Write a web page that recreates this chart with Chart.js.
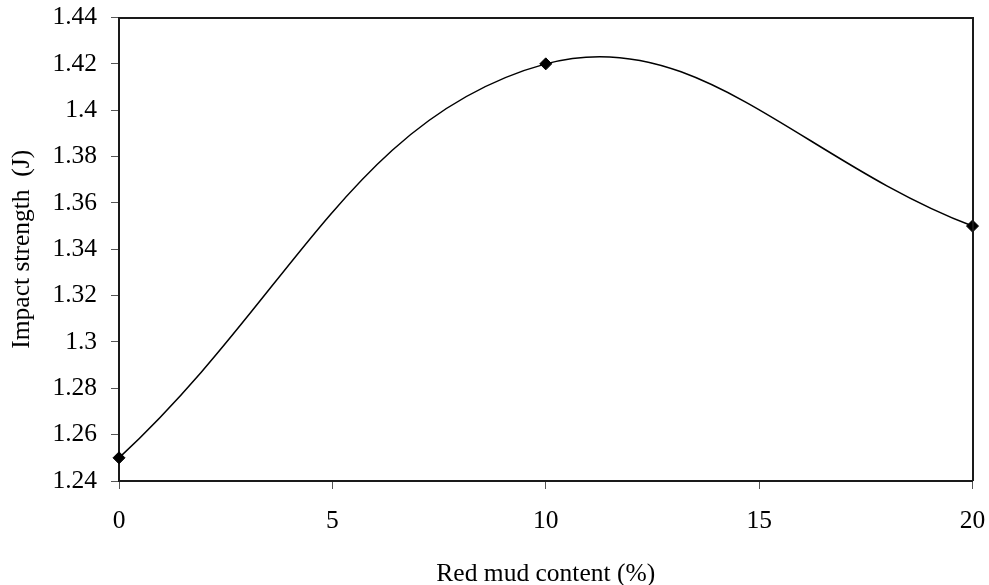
<!DOCTYPE html>
<html>
<head>
<meta charset="utf-8">
<script src="https://cdn.jsdelivr.net/npm/chart.js@4/dist/chart.umd.min.js"></script>
<style>
  html, body { margin: 0; padding: 0; background: #fff; }
  #wrap { width: 989px; height: 585px; }
</style>
</head>
<body>
<div id="wrap"><canvas id="c" width="989" height="585"></canvas></div>
<script>
// Data
const redMudContent = [0, 10, 20];           // %
const impactStrength = [1.25, 1.42, 1.35];   // J
const xTickValues = [0, 5, 10, 15, 20];
const yTickValues = [1.24, 1.26, 1.28, 1.3, 1.32, 1.34, 1.36, 1.38, 1.4, 1.42, 1.44];
const xTitle = 'Red mud content (%)';
const yTitle = 'Impact strength  (J)';

const points = redMudContent.map((x, i) => ({ x: x, y: impactStrength[i] }));
const FONT = 'Liberation Serif, Times New Roman, serif';

// top and right edges of the plot frame (left/bottom are the axis borders)
const framePlugin = {
  id: 'frame',
  afterDatasetsDraw(chart) {
    const { ctx, chartArea: a } = chart;
    const l = Math.round(a.left), r = Math.round(a.right), t = Math.round(a.top), b = Math.round(a.bottom);
    ctx.save();
    ctx.strokeStyle = '#1a1a1a';
    ctx.lineWidth = 2;
    ctx.beginPath();
    ctx.moveTo(l, t);
    ctx.lineTo(r, t);
    ctx.lineTo(r, b);
    ctx.stroke();
    ctx.restore();
  }
};

new Chart(document.getElementById('c'), {
  type: 'scatter',
  data: {
    datasets: [{
      data: points,
      showLine: true,
      tension: 0.4,
      borderColor: '#000',
      borderWidth: 1.5,
      pointStyle: 'rectRot',
      pointRadius: 6,
      pointHoverRadius: 6,
      pointBackgroundColor: '#000',
      pointBorderColor: '#000',
      pointBorderWidth: 1,
      clip: false
    }]
  },
  options: {
    responsive: false,
    animation: false,
    devicePixelRatio: 1,
    layout: { padding: { top: 17.5, right: 16.5, left: 0, bottom: 0 } },
    plugins: { legend: { display: false }, tooltip: { enabled: false } },
    scales: {
      x: {
        type: 'linear',
        min: 0, max: 20,
        afterBuildTicks(scale) { scale.ticks = xTickValues.map(v => ({ value: v })); },
        afterFit(scale) {
          scale.height = 104;
          scale.paddingLeft = 0; scale.paddingRight = 0;
        },
        grid: { drawOnChartArea: false, drawTicks: true, tickLength: 8, tickColor: '#555', tickWidth: 1 },
        border: { display: true, color: '#1a1a1a', width: 2 },
        ticks: {
          color: '#000', padding: 17,
          font: { family: FONT, size: 25.5 },
          callback: v => String(v)
        },
        title: {
          display: true, text: xTitle, color: '#000',
          font: { family: FONT, size: 25.5, lineHeight: 0.85 },
          padding: { top: 0, bottom: 0 }
        }
      },
      y: {
        type: 'linear',
        min: 1.24, max: 1.44,
        afterBuildTicks(scale) { scale.ticks = yTickValues.map(v => ({ value: v })); },
        afterFit(scale) {
          scale.width = 119;
          scale.paddingTop = 0; scale.paddingBottom = 0;
        },
        grid: { drawOnChartArea: false, drawTicks: true, tickLength: 8, tickColor: '#555', tickWidth: 1 },
        border: { display: true, color: '#1a1a1a', width: 2 },
        ticks: {
          color: '#000', padding: 14,
          font: { family: FONT, size: 25.5 },
          callback: v => String(Math.round(v * 100) / 100)
        },
        title: {
          display: true, text: yTitle, color: '#000',
          font: { family: FONT, size: 25.5, lineHeight: 1.2 },
          padding: { top: 7, bottom: 0 }
        }
      }
    }
  },
  plugins: [framePlugin]
});
</script>
</body>
</html>
